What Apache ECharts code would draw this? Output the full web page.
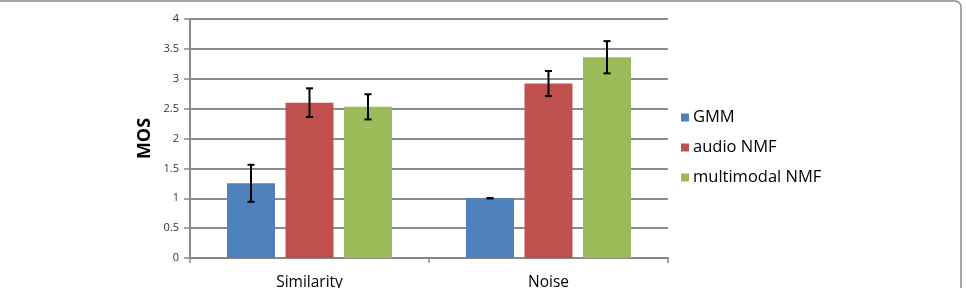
<!DOCTYPE html>
<html>
<head>
<meta charset="utf-8">
<script src="https://cdn.jsdelivr.net/npm/echarts@6/dist/echarts.min.js"></script>
<style>
html,body{margin:0;padding:0;background:#fff;}
#chart{width:966px;height:288px;}
</style>
</head>
<body>
<div id="chart"></div>
<script>
const categories = ['Similarity', 'Noise'];
const seriesNames = ['GMM', 'audio NMF', 'multimodal NMF'];
const gmm = [1.25, 1.0];
const audioNMF = [2.6, 2.92];
const multimodalNMF = [2.53, 3.36];
const gmmErr = [0.31, 0.0];
const audioNMFErr = [0.24, 0.21];
const multimodalNMFErr = [0.21, 0.27];
const yTicks = ['0', '0.5', '1', '1.5', '2', '2.5', '3', '3.5', '4'];
const colors = ['#4F81BD', '#C0504D', '#9BBB59'];

const values = [gmm, audioNMF, multimodalNMF];
const errors = [gmmErr, audioNMFErr, multimodalNMFErr];

const chart = echarts.init(document.getElementById('chart'), null, {renderer: 'canvas'});

const barWidth = 48;
const barGapPx = 10.5;

const series = [];
values.forEach((vals, i) => {
  series.push({
    name: seriesNames[i],
    type: 'bar',
    data: vals,
    barWidth: barWidth,
    barGap: (barGapPx / barWidth * 100) + '%',
    itemStyle: {color: colors[i]},
    z: 2
  });
});
values.forEach((vals, i) => {
  series.push({
    type: 'custom',
    name: seriesNames[i] + ' err',
    data: vals.map((v, j) => [j, v - errors[i][j], v + errors[i][j]]),
    z: 10,
    silent: true,
    renderItem: function (params, api) {
      const idx = api.value(0);
      const lo = api.coord([idx, api.value(1)]);
      const hi = api.coord([idx, api.value(2)]);
      const offset = (i - 1) * (barWidth + barGapPx);
      const x = lo[0] + offset;
      const cap = 3.5;
      const style = {stroke: '#000', lineWidth: 2};
      return {
        type: 'group',
        children: [
          {type: 'line', shape: {x1: x, y1: hi[1], x2: x, y2: lo[1]}, style: style},
          {type: 'line', shape: {x1: x - cap, y1: hi[1], x2: x + cap, y2: hi[1]}, style: style},
          {type: 'line', shape: {x1: x - cap, y1: lo[1], x2: x + cap, y2: lo[1]}, style: style}
        ]
      };
    }
  });
});

chart.setOption({
  animation: false,
  backgroundColor: '#fff',
  textStyle: {fontFamily: '"Open Sans", "Liberation Sans", sans-serif'},
  graphic: [{
    type: 'rect',
    shape: {x: -20, y: 1, width: 981, height: 400, r: 6},
    style: {fill: 'none', stroke: '#8a8a8a', lineWidth: 1.5},
    silent: true,
    z: -1
  }],
  grid: {left: 190, right: 298, top: 19, bottom: 30, containLabel: false, outerBoundsMode: 'none'},
  legend: {
    orient: 'vertical',
    left: 676,
    top: 104,
    itemWidth: 8,
    itemHeight: 8,
    itemGap: 13,
    icon: 'rect',
    data: seriesNames,
    textStyle: {fontSize: 16.5, color: '#000', fontFamily: '"Open Sans", sans-serif', padding: [0, 0, 0, -1]}
  },
  xAxis: {
    type: 'category',
    data: categories,
    axisLine: {lineStyle: {color: '#888', width: 2}},
    axisTick: {show: true, length: 5, lineStyle: {color: '#888', width: 1.5}},
    axisLabel: {fontSize: 15.5, color: '#000', margin: 17}
  },
  yAxis: {
    type: 'value',
    min: 0,
    max: 4,
    interval: 0.5,
    name: 'MOS',
    nameLocation: 'middle',
    nameGap: 36,
    nameTextStyle: {fontSize: 18, fontWeight: 'bold', color: '#000'},
    axisLine: {show: true, lineStyle: {color: '#888', width: 2}},
    axisTick: {show: true, length: 6, lineStyle: {color: '#888', width: 1.5}},
    axisLabel: {fontSize: 11, color: '#333', margin: 11, formatter: function (v) { return yTicks[Math.round(v / 0.5)]; }},
    splitLine: {lineStyle: {color: '#8c8c8c', width: 2}}
  },
  series: series
});
</script>
</body>
</html>
